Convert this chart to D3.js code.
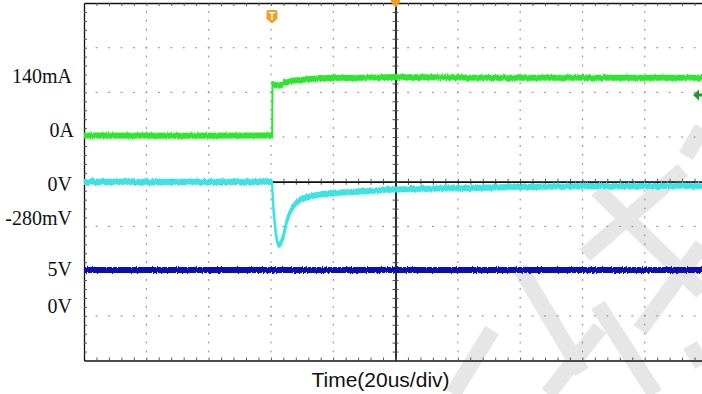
<!DOCTYPE html>
<html>
<head>
<meta charset="utf-8">
<script src="https://cdn.jsdelivr.net/npm/d3@7"></script>
<style>
  html, body { margin: 0; padding: 0; background: #fff; }
  svg { display: block; }
</style>
</head>
<body>
<svg id="scope" width="702" height="394"></svg>
<script>
// time base: 20us/div, 10 divisions
const timeDomain = [0, 200];
const triggerTime = 60.5;

// ch1, load current (mA)
const currentTime = [0, 30, 60.4, 60.5, 61.5, 62.4, 64, 66.8, 69.3, 76, 90, 100, 127, 165, 200];
const currentVals = [0, -0.5, 0, 126, 122, 119.5, 126, 132, 134, 138.5, 139.5, 141, 139.5, 139.5, 139.5];

// ch2, output ripple (mV)
const rippleTime = [0, 60.3, 60.7, 61.6, 62.6, 63.9, 65.2, 67.1, 69.3, 74.8, 79.9, 85.4, 95, 120.7, 140, 165.6, 200];
const rippleVals = [5, 5, -90, -226, -280, -244, -167, -108, -77, -54, -45, -41, -32, -23, -18, -14, -12];

// ch3, supply (V)
const supplyTime = [0, 200];
const supplyVals = [5, 5];

const levelLabels = ["140mA", "0A", "0V", "-280mV", "5V", "0V"];
const axisTitle = "Time(20us/div)";

const svg = d3.select("#scope");
const pL = 84, pT = 3, pR = 707, pB = 360.5;

const x = d3.scaleLinear().domain(timeDomain).range([pL, pR]);
const div = d3.scaleLinear().domain([0, 8]).range([pT, pB]);
const yI = d3.scaleLinear().domain([0, 140]).range([135.5, 77.5]);
const yR = d3.scaleLinear().domain([0, -280]).range([183, 245]);
const yS = d3.scaleLinear().domain([0, 5]).range([306, 270]);

const defs = svg.append("defs");
defs.append("clipPath").attr("id", "plot")
  .append("rect").attr("x", pL).attr("y", pT)
  .attr("width", pR - pL).attr("height", pB - pT);

// vertical-only jitter so the traces look like sampled scope data
const f = defs.append("filter").attr("id", "noisy")
  .attr("filterUnits", "userSpaceOnUse")
  .attr("x", 0).attr("y", 0).attr("width", 702).attr("height", 394);
f.append("feMorphology").attr("operator", "dilate").attr("radius", "0 1.6")
  .attr("in", "SourceGraphic").attr("result", "thick");
f.append("feTurbulence").attr("type", "fractalNoise").attr("baseFrequency", "0.8 0.03")
  .attr("numOctaves", 1).attr("seed", 4).attr("result", "n");
f.append("feColorMatrix").attr("in", "n").attr("type", "matrix")
  .attr("values", "1 0 0 0 0  0 0 0 0 0.5  0 0 0 0 0.5  0 0 0 0 1").attr("result", "n2");
f.append("feDisplacementMap").attr("in", "thick").attr("in2", "n2").attr("scale", 4)
  .attr("xChannelSelector", "G").attr("yChannelSelector", "R");

// watermark strokes
const wm = [
  [[702,128],[686,156]], [[683,170],[585,255]], [[597,190],[702,292]],
  [[702,245],[640,330]], [[520,268],[582,372]], [[453,394],[492,330]],
  [[548,394],[600,328]], [[598,305],[655,394]], [[690,345],[702,365]]
];
svg.append("g").selectAll("line").data(wm).enter().append("line")
  .attr("x1", d => d[0][0]).attr("y1", d => d[0][1])
  .attr("x2", d => d[1][0]).attr("y2", d => d[1][1])
  .attr("stroke", "#e6e6e6").attr("stroke-width", 16);

// dotted graticule
const grid = svg.append("g").attr("fill", "#959595");
const minorT = d3.range(4, 200, 4);
const minorD = d3.range(0.2, 8, 0.2);
[1, 2, 3, 4, 6, 7, 8, 9].forEach(i => {
  grid.selectAll(null).data(minorD).enter().append("rect")
    .attr("x", x(i * 20) - 0.5).attr("y", d => div(d) - 1)
    .attr("width", 1.2).attr("height", 1.8);
});
[1, 2, 3, 5, 6, 7].forEach(j => {
  grid.selectAll(null).data(minorT).enter().append("rect")
    .attr("x", d => x(d) - 0.8).attr("y", div(j) - 0.6)
    .attr("width", 1.8).attr("height", 1.2);
});

// centre axes with minor ticks both sides
function plain(a) {
  return a.tickFormat("").tickSizeInner(3).tickSizeOuter(0);
}
svg.append("g").attr("transform", `translate(0,${div(4)})`)
  .call(plain(d3.axisBottom(x).tickValues(minorT)));
svg.append("g").attr("transform", `translate(0,${div(4)})`)
  .call(plain(d3.axisTop(x).tickValues(minorT)));
svg.append("g").attr("transform", `translate(${x(100)},0)`)
  .call(plain(d3.axisLeft(div).tickValues(minorD)));
svg.append("g").attr("transform", `translate(${x(100)},0)`)
  .call(plain(d3.axisRight(div).tickValues(minorD)));

// frame with inward ticks
svg.append("g").attr("transform", `translate(${pL},0)`)
  .call(plain(d3.axisRight(div).tickValues(minorD)));
svg.append("g").attr("transform", `translate(0,${pT})`)
  .call(plain(d3.axisBottom(x).tickValues(minorT)));
svg.append("g").attr("transform", `translate(0,${pB})`)
  .call(plain(d3.axisTop(x).tickValues(minorT)));
svg.selectAll(".domain").attr("stroke", "#111").attr("stroke-width", 1.3);
svg.selectAll(".tick line").attr("stroke", "#555");

// traces
const traces = svg.append("g").attr("clip-path", "url(#plot)").attr("fill", "none")
  .attr("filter", "url(#noisy)");
const line = (ys) => d3.line().x(d => x(d[0])).y(d => ys(d[1]));
traces.append("path")
  .attr("d", line(yS)(d3.zip(supplyTime, supplyVals)))
  .attr("stroke", "#1010b4").attr("stroke-width", 1.8);
traces.append("path")
  .attr("d", line(yR).curve(d3.curveMonotoneX)(d3.zip(rippleTime, rippleVals)))
  .attr("stroke", "#3ee3e3").attr("stroke-width", 2.2);
traces.append("path")
  .attr("d", line(yI)(d3.zip(currentTime, currentVals)))
  .attr("stroke", "#2fe62f").attr("stroke-width", 2);

// level labels
const labelX = [72, 74, 72, 72, 72, 72];
const labelY = [82.7, 137, 190.7, 225, 276, 312.7];
svg.append("g").selectAll("text").data(levelLabels).enter().append("text")
  .attr("x", (d, i) => labelX[i]).attr("y", (d, i) => labelY[i])
  .attr("text-anchor", "end")
  .attr("font-family", "Liberation Serif, serif").attr("font-size", 20)
  .attr("fill", "#111").text(d => d);

svg.append("text").attr("x", 380.5).attr("y", 387).attr("text-anchor", "middle")
  .attr("font-family", "Liberation Sans, Arial, sans-serif").attr("font-size", 21)
  .attr("fill", "#111").text(axisTitle);

// trigger marker
const tx = x(triggerTime) - 0.5;
svg.append("path")
  .attr("d", `M${tx - 5.5},12 Q${tx - 5.5},10 ${tx - 3.5},10 L${tx + 3.5},10 Q${tx + 5.5},10 ${tx + 5.5},12 L${tx + 5.5},19 L${tx},23.5 L${tx - 5.5},19 Z`)
  .attr("fill", "#f0a028");
svg.append("text").attr("x", tx).attr("y", 19.5).attr("text-anchor", "middle")
  .attr("font-family", "Liberation Sans, sans-serif").attr("font-weight", "bold")
  .attr("font-size", 10).attr("fill", "#fff").text("T");

// horizontal position marker
const cx = x(100);
svg.append("path")
  .attr("d", `M${cx - 4.5},0 L${cx + 4.5},0 L${cx + 4.5},2 L${cx},7.5 L${cx - 4.5},2 Z`)
  .attr("fill", "#f0a028");

// ch1 ground marker
svg.append("path")
  .attr("d", `M693,95 L699,89.5 L699,93.5 L702,93.5 L702,96.5 L699,96.5 L699,100.5 Z`)
  .attr("fill", "#1f9a24");
</script>
</body>
</html>
